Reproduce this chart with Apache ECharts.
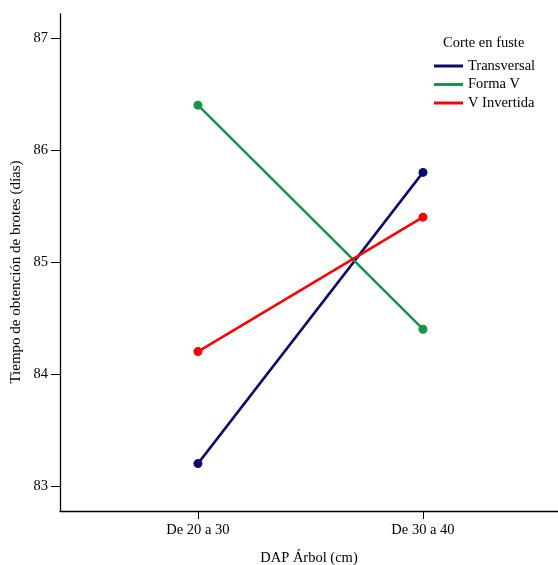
<!DOCTYPE html>
<html><head><meta charset="utf-8">
<script src="https://cdn.jsdelivr.net/npm/echarts@6/dist/echarts.min.js"></script>
<style>html,body{margin:0;padding:0;background:#fff}#c{width:558px;height:565px}</style>
</head><body><div id="c"></div>
<script>
const categories = ['De 20 a 30', 'De 30 a 40'];
const transversal = [83.2, 85.8];
const formaV = [86.4, 84.4];
const vInvertida = [84.2, 85.4];
const yTicks = [83, 84, 85, 86, 87];
const seriesNames = ['Transversal', 'Forma V', 'V Invertida'];
const legendTitle = 'Corte en fuste';
const xTitle = 'DAP Árbol (cm)';
const yTitle = 'Tiempo de obtención de brotes (días)';

const F = 'Liberation Serif';
const FS = 14.5;
const colors = ['#0b0b6e', '#17944a', '#ff0000'];
const toPts = arr => arr.map((v, i) => [i + 1, v]);
const chart = echarts.init(document.getElementById('c'));
chart.setOption({
  animation: false,
  textStyle: {fontFamily: F},
  grid: {left: 60, right: 0, top: 14, bottom: 54, outerBoundsMode: 'none', containLabel: false},
  graphic: [
    {type: 'text', left: 443, top: 36, style: {text: legendTitle, font: FS + 'px "Liberation Serif"', fill: '#000'}},
    {type: 'text', x: 16, y: 272, rotation: Math.PI / 2,
     style: {text: yTitle, font: '15px "Liberation Serif"', fill: '#000', align: 'center', verticalAlign: 'middle'}}
  ],
  legend: {
    orient: 'vertical', left: 434, top: 58, padding: 0, itemWidth: 29, itemHeight: 3, itemGap: 2.5,
    icon: 'rect', textStyle: {fontFamily: F, fontSize: FS, color: '#000', lineHeight: 16},
    data: seriesNames
  },
  xAxis: {
    type: 'value', min: 0.387, max: 2.6,
    name: xTitle, nameLocation: 'middle', nameGap: 40,
    nameTextStyle: {fontFamily: F, fontSize: FS, color: '#000'},
    axisLine: {lineStyle: {color: '#000', width: 1.3}},
    axisTick: {show: true, length: 8, customValues: [1, 2], lineStyle: {color: '#000'}},
    axisLabel: {customValues: [1, 2], formatter: v => categories[Math.round(v) - 1] || '', fontFamily: F, fontSize: FS, color: '#000', margin: 12},
    splitLine: {show: false}
  },
  yAxis: {
    type: 'value', min: 82.777, max: 87.214,
    axisLine: {show: true, lineStyle: {color: '#000', width: 1.3}},
    axisTick: {show: true, length: 9, customValues: yTicks, lineStyle: {color: '#000'}},
    axisLabel: {customValues: yTicks, fontFamily: F, fontSize: FS, color: '#000', margin: 12},
    splitLine: {show: false}
  },
  series: [transversal, formaV, vInvertida].map((d, i) => ({
    name: seriesNames[i], type: 'line', data: toPts(d),
    symbol: 'circle', symbolSize: 9,
    lineStyle: {width: 2.5, color: colors[i]}, itemStyle: {color: colors[i]}
  }))
});
</script></body></html>
